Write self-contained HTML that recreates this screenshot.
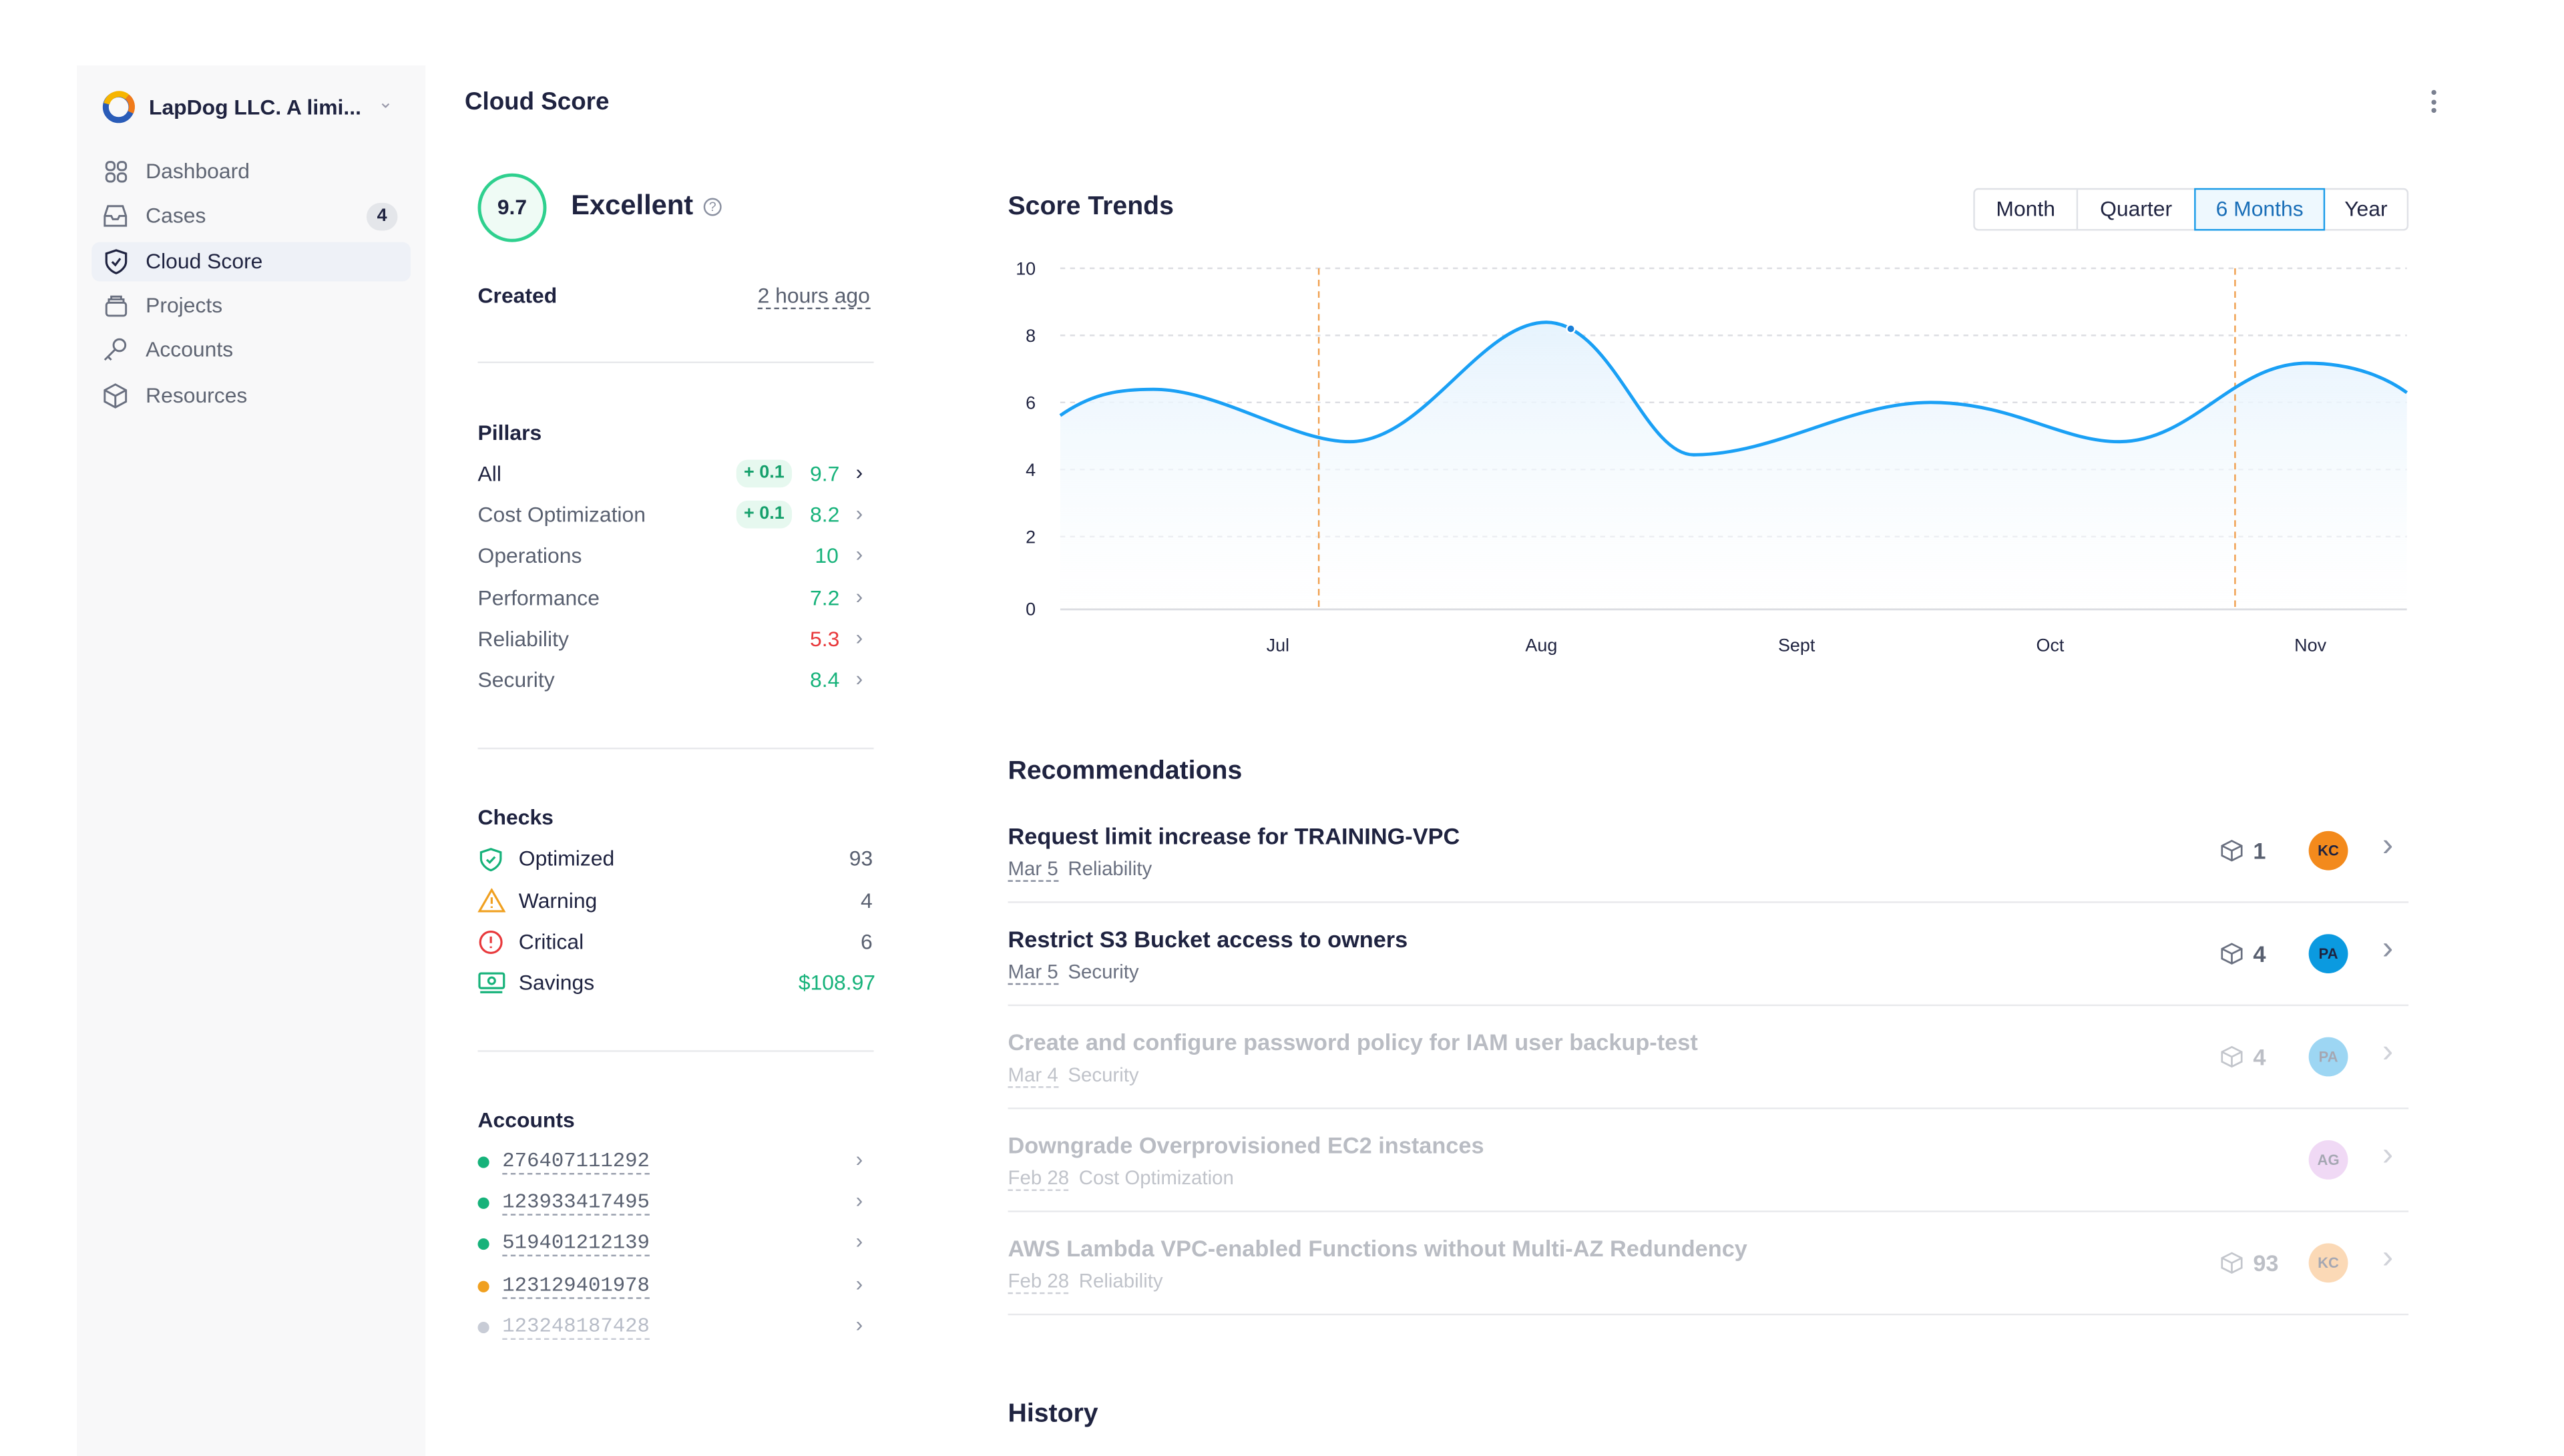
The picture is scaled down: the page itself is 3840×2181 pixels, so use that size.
<!DOCTYPE html>
<html><head><meta charset="utf-8"><style>
html,body{margin:0;padding:0;background:#fff;overflow:hidden;width:3840px;height:2160px}
#w{position:absolute;left:0;top:0;width:1567px;height:882px;transform:scale(2.4505);transform-origin:0 0;font-family:"Liberation Sans",sans-serif;color:#1f2340}
.a{position:absolute;white-space:nowrap}
.nav{font-size:13px;color:#5f6573}
.ic{position:absolute}
.lbl{font-size:13px;color:#596070}
.g{color:#16b27a}
.chev{position:absolute;font-size:13px;color:#8a90a0}
.badge{position:absolute;background:#e6f8ef;color:#16a06c;font-size:11px;font-weight:bold;border-radius:7px;width:34px;height:17px;line-height:17px;text-align:center}
.sep{position:absolute;height:1px;background:#e8e9ec}
.acc{font-family:"Liberation Mono",monospace;font-size:12.5px;color:#596070;border-bottom:1px dashed #9aa0ae;line-height:14px}
.dot{position:absolute;width:7px;height:7px;border-radius:50%}
.rt{font-size:14px;font-weight:bold;color:#1f2340}
.rs{font-size:12px;color:#6a7080}
.rs u{text-decoration:none;border-bottom:1px dashed #8a90a0;margin-right:6px}
.av{position:absolute;width:24px;height:24px;border-radius:50%;font-size:9px;font-weight:bold;text-align:center;line-height:24px;color:#1f2340}
.cnt{position:absolute;font-size:14px;font-weight:bold;color:#596070}
</style></head><body><div id="w">
<!-- sidebar -->
<div style="position:absolute;left:47px;top:40px;width:213px;height:850px;background:#f8f8f9"></div>
<svg class="ic" style="left:62px;top:55px" width="21" height="21" viewBox="0 0 20 20"><circle cx="10" cy="10" r="7.5" fill="none" stroke="#2a5cb8" stroke-width="3.5"/><path d="M3 8 A7.5 7.5 0 0 1 15 4" fill="none" stroke="#f7b500" stroke-width="3.5"/><path d="M15 4 A7.5 7.5 0 0 1 17 13" fill="none" stroke="#f07a1a" stroke-width="3.5"/></svg>
<div class="a" style="left:91px;top:58px;font-size:13px;font-weight:bold">LapDog LLC. A limi...</div>
<div class="a" style="left:231px;top:56px;font-size:11px;color:#99a">&#8964;</div>
<div style="position:absolute;left:56px;top:148px;width:195px;height:24px;background:#eef1f7;border-radius:5px"></div>
<svg class="ic" style="left:64px;top:98px" width="14" height="14" viewBox="0 0 14 14" fill="none" stroke="#6a7080" stroke-width="1.2"><rect x="1" y="1" width="5" height="5" rx="2"/><rect x="8" y="1" width="5" height="5" rx="2"/><rect x="1" y="8" width="5" height="5" rx="2"/><rect x="8" y="8" width="5" height="5" rx="2"/></svg>
<div class="a nav" style="left:89px;top:97px">Dashboard</div>
<svg class="ic" style="left:63px;top:125px" width="15" height="14" viewBox="0 0 15 14" fill="none" stroke="#6a7080" stroke-width="1.2"><path d="M1 7 L3 1 H12 L14 7 V13 H1 Z M1 7 H5 L6 9 H9 L10 7 H14"/></svg>
<div class="a nav" style="left:89px;top:124px">Cases</div>
<div class="a" style="left:224px;top:124px;width:19px;height:17px;border-radius:9px;background:#e4e6ea;font-size:11px;font-weight:bold;text-align:center;line-height:17px">4</div>
<svg class="ic" style="left:64px;top:152px" width="14" height="16" viewBox="0 0 14 16" fill="none" stroke="#1f2340" stroke-width="1.3"><path d="M7 1 L13 3 V8 C13 11 10 14 7 15 C4 14 1 11 1 8 V3 Z"/><path d="M4.5 8 L6.5 10 L9.5 6"/></svg>
<div class="a" style="left:89px;top:152px;font-size:13px;color:#1f2340">Cloud Score</div>
<svg class="ic" style="left:64px;top:180px" width="14" height="14" viewBox="0 0 14 14" fill="none" stroke="#6a7080" stroke-width="1.2"><rect x="1" y="5" width="12" height="8" rx="1.5"/><path d="M2.5 5 V3 H11.5 V5 M4 3 V1.3 H10 V3"/></svg>
<div class="a nav" style="left:89px;top:179px">Projects</div>
<svg class="ic" style="left:63px;top:206px" width="15" height="15" viewBox="0 0 15 15" fill="none" stroke="#6a7080" stroke-width="1.2"><circle cx="10" cy="5" r="3.6"/><path d="M7.5 7.5 L1 14 M3 12 L5 14"/></svg>
<div class="a nav" style="left:89px;top:206px">Accounts</div>
<svg class="ic" style="left:63px;top:234px" width="15" height="16" viewBox="0 0 15 16" fill="none" stroke="#6a7080" stroke-width="1.2"><path d="M7.5 1 L14 4.5 V11.5 L7.5 15 L1 11.5 V4.5 Z M1 4.5 L7.5 8 L14 4.5 M7.5 8 V15"/></svg>
<div class="a nav" style="left:89px;top:234px">Resources</div>

<!-- header -->
<div class="a" style="left:284px;top:54px;font-size:15px;font-weight:bold">Cloud Score</div>
<div class="a" style="left:1486px;top:55px;width:3px"><div style="width:3px;height:3px;border-radius:50%;background:#7a8090;margin-bottom:2.5px"></div><div style="width:3px;height:3px;border-radius:50%;background:#7a8090;margin-bottom:2.5px"></div><div style="width:3px;height:3px;border-radius:50%;background:#7a8090"></div></div>

<!-- score -->
<div class="a" style="left:292px;top:106px;width:38px;height:38px;border:2px solid #2ed08e;border-radius:50%;background:#effbf5;text-align:center;line-height:38px;font-size:13px;font-weight:bold">9.7</div>
<div class="a" style="left:349px;top:116px;font-size:17px;font-weight:bold">Excellent</div>
<div class="a" style="left:430px;top:121px;width:9px;height:9px;border:1px solid #8a90a0;border-radius:50%;font-size:8px;line-height:9px;text-align:center;color:#8a90a0">?</div>
<div class="a" style="left:292px;top:173px;font-size:13px;font-weight:bold">Created</div>
<div class="a" style="left:463px;top:173px;font-size:13px;color:#596070;border-bottom:1px dashed #596070;line-height:15px">2 hours ago</div>
<div class="sep" style="left:292px;top:221px;width:242px"></div>

<div class="a" style="left:292px;top:257px;font-size:13px;font-weight:bold">Pillars</div>
<div class="a" style="left:292px;top:282px;font-size:13px;color:#1f2340">All</div>
<div class="badge" style="left:450px;top:281px">+ 0.1</div><div class="a g" style="left:495px;top:282px;font-size:13px">9.7</div><div class="chev" style="left:523px;top:281px;color:#1f2340">&#8250;</div>
<div class="a lbl" style="left:292px;top:307px">Cost Optimization</div>
<div class="badge" style="left:450px;top:306px">+ 0.1</div><div class="a g" style="left:495px;top:307px;font-size:13px">8.2</div><div class="chev" style="left:523px;top:306px">&#8250;</div>
<div class="a lbl" style="left:292px;top:332px">Operations</div><div class="a g" style="left:498px;top:332px;font-size:13px">10</div><div class="chev" style="left:523px;top:331px">&#8250;</div>
<div class="a lbl" style="left:292px;top:358px">Performance</div><div class="a g" style="left:495px;top:358px;font-size:13px">7.2</div><div class="chev" style="left:523px;top:357px">&#8250;</div>
<div class="a lbl" style="left:292px;top:383px">Reliability</div><div class="a" style="left:495px;top:383px;font-size:13px;color:#e8383b">5.3</div><div class="chev" style="left:523px;top:382px">&#8250;</div>
<div class="a lbl" style="left:292px;top:408px">Security</div><div class="a g" style="left:495px;top:408px;font-size:13px">8.4</div><div class="chev" style="left:523px;top:407px">&#8250;</div>
<div class="sep" style="left:292px;top:457px;width:242px"></div>

<div class="a" style="left:292px;top:492px;font-size:13px;font-weight:bold">Checks</div>
<svg class="ic" style="left:292px;top:518px" width="16" height="15" viewBox="0 0 16 15" fill="none" stroke="#16b27a" stroke-width="1.3"><path d="M8 1 L14 3 V7 C14 10 11 13 8 14 C5 13 2 10 2 7 V3 Z"/><path d="M5.5 7.5 L7.3 9.2 L10.5 5.8"/></svg>
<div class="a" style="left:317px;top:517px;font-size:13px">Optimized</div><div class="a" style="left:519px;top:517px;font-size:13px;color:#596070">93</div>
<svg class="ic" style="left:292px;top:543px" width="17" height="15" viewBox="0 0 17 15" fill="none" stroke="#f0a020" stroke-width="1.3"><path d="M8.5 1 L16 14 H1 Z"/><path d="M8.5 5.5 V9.5 M8.5 11 V12"/></svg>
<div class="a" style="left:317px;top:543px;font-size:13px">Warning</div><div class="a" style="left:526px;top:543px;font-size:13px;color:#596070">4</div>
<svg class="ic" style="left:292px;top:568px" width="16" height="16" viewBox="0 0 16 16" fill="none" stroke="#e8383b" stroke-width="1.3"><circle cx="8" cy="8" r="6.5"/><path d="M8 4.5 V8.5 M8 10.5 V11.5"/></svg>
<div class="a" style="left:317px;top:568px;font-size:13px">Critical</div><div class="a" style="left:526px;top:568px;font-size:13px;color:#596070">6</div>
<svg class="ic" style="left:292px;top:594px" width="17" height="14" viewBox="0 0 17 14" fill="none" stroke="#16b27a" stroke-width="1.3"><rect x="1" y="1" width="15" height="9" rx="1"/><circle cx="8.5" cy="5.5" r="2"/><path d="M1.5 12.5 H15"/></svg>
<div class="a" style="left:317px;top:593px;font-size:13px">Savings</div><div class="a g" style="left:488px;top:593px;font-size:13px">$108.97</div>
<div class="sep" style="left:292px;top:642px;width:242px"></div>

<div class="a" style="left:292px;top:677px;font-size:13px;font-weight:bold">Accounts</div>
<div class="dot" style="left:292px;top:707px;background:#16b27a"></div><div class="a acc" style="left:307px;top:703px">276407111292</div><div class="chev" style="left:523px;top:701px">&#8250;</div>
<div class="dot" style="left:292px;top:732px;background:#16b27a"></div><div class="a acc" style="left:307px;top:728px">123933417495</div><div class="chev" style="left:523px;top:726px">&#8250;</div>
<div class="dot" style="left:292px;top:757px;background:#16b27a"></div><div class="a acc" style="left:307px;top:753px">519401212139</div><div class="chev" style="left:523px;top:751px">&#8250;</div>
<div class="dot" style="left:292px;top:783px;background:#f0a020"></div><div class="a acc" style="left:307px;top:779px">123129401978</div><div class="chev" style="left:523px;top:777px">&#8250;</div>
<div class="dot" style="left:292px;top:808px;background:#c8ccd6"></div><div class="a acc" style="left:307px;top:804px;color:#b8bdc8;border-color:#c8ccd6">123248187428</div><div class="chev" style="left:523px;top:802px">&#8250;</div>

<!-- score trends -->
<div class="a" style="left:616px;top:118px;font-size:16px;font-weight:bold">Score Trends</div>
<div class="a" style="left:1206px;top:115px;height:24px;border:1px solid #dfe1e6;border-radius:3px;display:flex;font-size:13px;line-height:24px">
<div style="width:62px;text-align:center;border-right:1px solid #dfe1e6">Month</div>
<div style="width:71px;text-align:center">Quarter</div>
<div style="width:78px;text-align:center;border:1px solid #1a9be8;background:#eef8fe;color:#1a6fb8;margin:-1px 0;line-height:24px">6 Months</div>
<div style="width:50px;text-align:center">Year</div>
</div>
<svg class="ic" style="left:600px;top:150px" width="890" height="260" viewBox="600 150 890 260" font-family="Liberation Sans, sans-serif" font-size="11" fill="#1f2340">
<defs><linearGradient id="gr" x1="0" y1="0" x2="0" y2="1"><stop offset="0" stop-color="#e6f3fd"/><stop offset="1" stop-color="#ffffff" stop-opacity="0.4"/></linearGradient></defs>
<g stroke="#dcdde2" stroke-dasharray="3,3" stroke-width="1"><line x1="648" y1="164" x2="1471" y2="164"/><line x1="648" y1="205" x2="1471" y2="205"/><line x1="648" y1="246" x2="1471" y2="246"/><line x1="648" y1="287" x2="1471" y2="287"/><line x1="648" y1="328" x2="1471" y2="328"/></g>
<path d="M648,254 C668,240 685,238 705,238 C745,238 790,270 825,270 C870,270 905,197 945,197 C985,197 1005,278 1035,278 C1085,278 1130,246 1180,246 C1230,246 1260,270 1295,270 C1340,270 1365,222 1410,222 C1440,222 1460,232 1471,240 L1471,372 L648,372 Z" fill="url(#gr)"/>
<line x1="648" y1="372.5" x2="1471" y2="372.5" stroke="#dcdde2" stroke-width="1.2"/>
<g stroke="#f0a050" stroke-dasharray="4,3" stroke-width="1"><line x1="806" y1="164" x2="806" y2="372"/><line x1="1366" y1="164" x2="1366" y2="372"/></g>
<path d="M648,254 C668,240 685,238 705,238 C745,238 790,270 825,270 C870,270 905,197 945,197 C985,197 1005,278 1035,278 C1085,278 1130,246 1180,246 C1230,246 1260,270 1295,270 C1340,270 1365,222 1410,222 C1440,222 1460,232 1471,240" fill="none" stroke="#1aa0f5" stroke-width="2"/>
<circle cx="960" cy="201" r="2.5" fill="#1a7fd8" stroke="#fff" stroke-width="1"/>
<g text-anchor="end"><text x="633" y="168">10</text><text x="633" y="209">8</text><text x="633" y="250">6</text><text x="633" y="291">4</text><text x="633" y="332">2</text><text x="633" y="376">0</text></g>
<g text-anchor="middle"><text x="781" y="398">Jul</text><text x="942" y="398">Aug</text><text x="1098" y="398">Sept</text><text x="1253" y="398">Oct</text><text x="1412" y="398">Nov</text></g>
</svg>

<!-- recommendations -->
<div class="a" style="left:616px;top:463px;font-size:16px;font-weight:bold">Recommendations</div>
<div class="a rt" style="left:616px;top:503px">Request limit increase for TRAINING-VPC</div>
<div class="a rs" style="left:616px;top:524px"><u>Mar 5</u>Reliability</div>
<div class="sep" style="left:616px;top:551px;width:856px"></div>
<div class="a rt" style="left:616px;top:566px">Restrict S3 Bucket access to owners</div>
<div class="a rs" style="left:616px;top:587px"><u>Mar 5</u>Security</div>
<div class="sep" style="left:616px;top:614px;width:856px"></div>
<div style="opacity:0.42">
<div class="a rt" style="left:616px;top:629px;color:#5a6070">Create and configure password policy for IAM user backup-test</div>
<div class="a rs" style="left:616px;top:650px"><u>Mar 4</u>Security</div>
<div class="a rt" style="left:616px;top:692px;color:#5a6070">Downgrade Overprovisioned EC2 instances</div>
<div class="a rs" style="left:616px;top:713px"><u>Feb 28</u>Cost Optimization</div>
<div class="a rt" style="left:616px;top:755px;color:#5a6070">AWS Lambda VPC-enabled Functions without Multi-AZ Redundency</div>
<div class="a rs" style="left:616px;top:776px"><u>Feb 28</u>Reliability</div>
</div>
<div class="sep" style="left:616px;top:677px;width:856px"></div>
<div class="sep" style="left:616px;top:740px;width:856px"></div>
<div class="sep" style="left:616px;top:803px;width:856px"></div>

<svg class="ic" style="left:1357px;top:513px" width="14" height="14" viewBox="0 0 14 14" fill="none" stroke="#6a7080" stroke-width="1.1"><path d="M7 1 L13 4 V10 L7 13 L1 10 V4 Z M1 4 L7 7 L13 4 M7 7 V13"/></svg><div class="cnt" style="left:1377px;top:512px">1</div>
<div class="av" style="left:1411px;top:508px;background:#f38a1c">KC</div><div class="chev" style="left:1456px;top:506px;font-size:20px">&#8250;</div>
<svg class="ic" style="left:1357px;top:576px" width="14" height="14" viewBox="0 0 14 14" fill="none" stroke="#6a7080" stroke-width="1.1"><path d="M7 1 L13 4 V10 L7 13 L1 10 V4 Z M1 4 L7 7 L13 4 M7 7 V13"/></svg><div class="cnt" style="left:1377px;top:575px">4</div>
<div class="av" style="left:1411px;top:571px;background:#0b9ae0">PA</div><div class="chev" style="left:1456px;top:569px;font-size:20px">&#8250;</div>
<div style="opacity:0.4">
<svg class="ic" style="left:1357px;top:639px" width="14" height="14" viewBox="0 0 14 14" fill="none" stroke="#6a7080" stroke-width="1.1"><path d="M7 1 L13 4 V10 L7 13 L1 10 V4 Z M1 4 L7 7 L13 4 M7 7 V13"/></svg><div class="cnt" style="left:1377px;top:638px">4</div>
<div class="av" style="left:1411px;top:634px;background:#0b9ae0">PA</div><div class="chev" style="left:1456px;top:632px;font-size:20px">&#8250;</div>
<div class="av" style="left:1411px;top:697px;background:#d9a0e6">AG</div><div class="chev" style="left:1456px;top:695px;font-size:20px">&#8250;</div>
<svg class="ic" style="left:1357px;top:765px" width="14" height="14" viewBox="0 0 14 14" fill="none" stroke="#6a7080" stroke-width="1.1"><path d="M7 1 L13 4 V10 L7 13 L1 10 V4 Z M1 4 L7 7 L13 4 M7 7 V13"/></svg><div class="cnt" style="left:1377px;top:764px">93</div>
<div class="av" style="left:1411px;top:760px;background:#f5a04a">KC</div><div class="chev" style="left:1456px;top:758px;font-size:20px">&#8250;</div>
</div>

<div class="a" style="left:616px;top:856px;font-size:16px;font-weight:bold">History</div>
</div></body></html>
